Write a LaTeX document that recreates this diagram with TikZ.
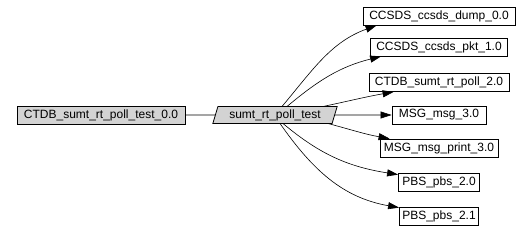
\documentclass[tikz,border=0pt]{standalone}
\usepackage{fontspec}
\setmainfont{Liberation Sans}
\usetikzlibrary{shapes.geometric,arrows.meta}
\definecolor{boxgray}{HTML}{D3D3D3}

\begin{document}
\begin{tikzpicture}[x=1pt, y=1pt, font=\fontsize{12}{14}\selectfont,
  box/.style={draw, line width=0.8pt, minimum height=18pt, inner sep=0pt},
  src/.style={box, fill=boxgray},
  fn/.style={draw, line width=0.8pt, fill=boxgray, trapezium,
    trapezium left angle=70, trapezium right angle=110, trapezium stretches=true,
    minimum width=125pt, minimum height=17pt, inner sep=0pt},
  dep/.style={line width=0.6pt, -{Triangle[length=11pt,width=7pt]}}]
  \useasboundingbox (0,0) rectangle (532,231);
  \node[src, minimum width=168pt] (ctdb) at (101,116) {CTDB\_sumt\_rt\_poll\_test\_0.0};
  \node[fn] (poll) at (275,116) {sumt\_rt\_poll\_test};
  % called units
  \foreach \n/\y/\w/\t in {dump/215/152/CCSDS\_ccsds\_dump\_0.0,
      pkt/184/137/CCSDS\_ccsds\_pkt\_1.0,
      ctdbpoll/148.5/140/CTDB\_sumt\_rt\_poll\_2.0,
      msg/116/94/MSG\_msg\_3.0,
      print/83/118/MSG\_msg\_print\_3.0,
      pbsa/49/81/PBS\_pbs\_2.0,
      pbsb/15/79/PBS\_pbs\_2.1}
    \node[box, minimum width=\w pt] (\n) at (439,\y) {\t};
  \draw[line width=0.6pt] (ctdb) -- (poll);
  \draw[dep] ([shift={(7,8.5)}]poll.center) to[out=50,in=200] ([xshift=14pt]dump.south west);
  \draw[dep] ([shift={(12,8.5)}]poll.center) to[out=40,in=194] ([xshift=11pt]pkt.south west);
  \draw[dep] ([shift={(48,8.5)}]poll.center) to[out=12,in=190] ([xshift=25pt]ctdbpoll.south west);
  \draw[dep] (poll) -- (msg);
  \draw[dep] ([shift={(53,-8.5)}]poll.center) to[out=-15,in=170] ([xshift=10pt]print.north west);
  \draw[dep] ([shift={(8,-8.5)}]poll.center) to[out=-40,in=171] ([yshift=-2pt]pbsa.north west);
  \draw[dep] ([shift={(5,-8.5)}]poll.center) to[out=-55,in=170] ([yshift=-1pt]pbsb.north west);
\end{tikzpicture}
\end{document}
